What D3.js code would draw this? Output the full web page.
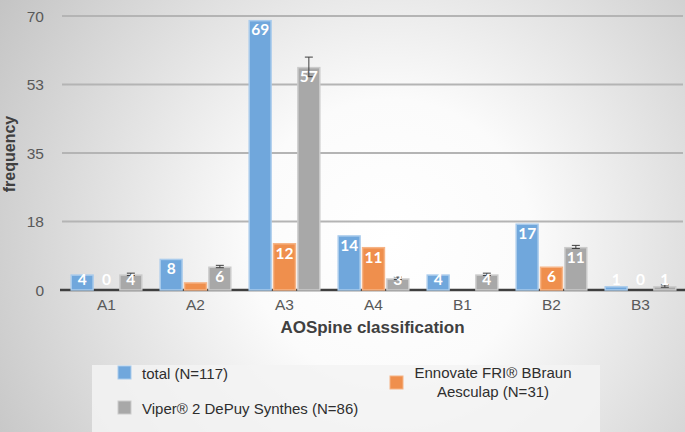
<!DOCTYPE html>
<html>
<head>
<meta charset="utf-8">
<script src="https://cdn.jsdelivr.net/npm/d3@7"></script>
<style>
  html, body { margin: 0; padding: 0; }
  body { width: 685px; height: 432px; overflow: hidden; }
</style>
</head>
<body>
<svg id="chart" width="685" height="432"></svg>
<script>
// AOSpine classification frequencies per implant system
const categories = ['A1', 'A2', 'A3', 'A4', 'B1', 'B2', 'B3'];
const seriesNames = ['total (N=117)', 'Ennovate FRI® BBraun Aesculap (N=31)', 'Viper® 2 DePuy Synthes (N=86)'];
const totalValues = [4, 8, 69, 14, 4, 17, 1];
const ennovateValues = [0, 2, 12, 11, 0, 6, 0];
const viperValues = [4, 6, 57, 3, 4, 11, 1];
const viperErrors = [0.3, 0.3, 2.5, 0.3, 0.3, 0.4, 0.3];
// labels Excel left out are empty strings
const totalLabels = ['4', '8', '69', '14', '4', '17', '1'];
const ennovateLabels = ['0', '', '12', '11', '', '6', '0'];
const viperLabels = ['4', '6', '57', '3', '4', '11', '1'];
const yTicks = [0, 17.5, 35, 52.5, 70];

const COLORS = {
  fill: ['#70a7dc', '#ef8f4d', '#a8a8a8'],
  edge: ['#a9cbec', '#f6b486', '#cbcbcb'],
  grid: '#b4b4b4',
  base: '#3f3f3f',
  text: '#595959',
  title: '#404040'
};
const FONT = 'Liberation Sans, Arial, sans-serif';
const LABEL_FONT = 'Lato, Open Sans, sans-serif';

const plot = { left: 62, right: 685, top: 16, bottom: 290 };

const svg = d3.select('#chart');

// radial grey background, white in the middle
const defs = svg.append('defs');
const grad = defs.append('radialGradient')
  .attr('id', 'bg')
  .attr('gradientUnits', 'userSpaceOnUse')
  .attr('cx', 390).attr('cy', 240).attr('r', 470);
grad.append('stop').attr('offset', '0%').attr('stop-color', '#ffffff');
grad.append('stop').attr('offset', '30%').attr('stop-color', '#fbfbfb');
grad.append('stop').attr('offset', '100%').attr('stop-color', '#c2c2c2');

svg.append('rect')
  .attr('width', 685).attr('height', 432)
  .attr('fill', 'url(#bg)');

const x0 = d3.scaleBand()
  .domain(categories)
  .range([plot.left, plot.right])
  .paddingInner(0.19)
  .paddingOuter(0.095);

const x1 = d3.scaleBand()
  .domain(d3.range(3))
  .range([0, x0.bandwidth()])
  .paddingInner(0.04);

const y = d3.scaleLinear()
  .domain([0, 70])
  .range([plot.bottom, plot.top]);

// grid lines
svg.append('g').attr('class', 'grid')
  .selectAll('line')
  .data(yTicks.slice(1))
  .join('line')
  .attr('x1', plot.left)
  .attr('x2', plot.right - 2)
  .attr('y1', d => y(d))
  .attr('y2', d => y(d))
  .attr('stroke', COLORS.grid)
  .attr('stroke-width', 2);

// y axis labels only
const yAxis = svg.append('g')
  .attr('transform', `translate(${plot.left - 6},0)`)
  .call(d3.axisLeft(y).tickValues(yTicks).tickFormat(d3.format('.0f')).tickSize(0).tickPadding(12));
yAxis.select('.domain').remove();
yAxis.selectAll('text')
  .attr('fill', COLORS.text)
  .attr('font-family', FONT)
  .attr('font-size', 15.5)
  .attr('dy', '0.35em');

// baseline
svg.append('line')
  .attr('x1', plot.left - 2).attr('x2', plot.right)
  .attr('y1', y(0)).attr('y2', y(0))
  .attr('stroke', COLORS.base)
  .attr('stroke-width', 2.5);

// x axis labels
const xAxis = svg.append('g')
  .attr('transform', `translate(0,${y(0)})`)
  .call(d3.axisBottom(x0).tickSize(0).tickPadding(9));
xAxis.select('.domain').remove();
xAxis.selectAll('text')
  .attr('fill', COLORS.text)
  .attr('font-family', FONT)
  .attr('font-size', 15.5);

const series = [
  { values: totalValues, labels: totalLabels },
  { values: ennovateValues, labels: ennovateLabels },
  { values: viperValues, labels: viperLabels, errors: viperErrors }
];

series.forEach((s, si) => {
  const g = svg.append('g').attr('class', 'series-' + si);
  const rows = categories.map((c, i) => ({ c, v: s.values[i], label: s.labels[i], err: s.errors ? s.errors[i] : 0 }));

  g.selectAll('rect')
    .data(rows.filter(d => d.v > 0))
    .join('rect')
    .attr('x', d => x0(d.c) + x1(si) + 0.75)
    .attr('y', d => y(d.v) + 0.75)
    .attr('width', x1.bandwidth() - 1.5)
    .attr('height', d => y(0) - y(d.v) - 0.75)
    .attr('fill', COLORS.fill[si])
    .attr('stroke', COLORS.edge[si])
    .attr('stroke-width', 1.5);

  if (s.errors) {
    const eb = g.append('g').attr('class', 'errors');
    const cx = d => x0(d.c) + x1(si) + x1.bandwidth() / 2;
    eb.selectAll('line.stem')
      .data(rows)
      .join('line')
      .attr('class', 'stem')
      .attr('x1', cx).attr('x2', cx)
      .attr('y1', d => y(d.v + d.err)).attr('y2', d => y(d.v - d.err))
      .attr('stroke', COLORS.base).attr('stroke-width', 1);
    eb.selectAll('line.cap-hi')
      .data(rows)
      .join('line')
      .attr('class', 'cap-hi')
      .attr('x1', d => cx(d) - 4).attr('x2', d => cx(d) + 4)
      .attr('y1', d => y(d.v + d.err)).attr('y2', d => y(d.v + d.err))
      .attr('stroke', COLORS.base).attr('stroke-width', 1);
    eb.selectAll('line.cap-lo')
      .data(rows)
      .join('line')
      .attr('class', 'cap-lo')
      .attr('x1', d => cx(d) - 4).attr('x2', d => cx(d) + 4)
      .attr('y1', d => y(d.v - d.err)).attr('y2', d => y(d.v - d.err))
      .attr('stroke', COLORS.base).attr('stroke-width', 1);
  }

  // inside-end labels, kept above the baseline
  g.selectAll('text')
    .data(rows.filter(d => d.label !== ''))
    .join('text')
    .attr('x', d => x0(d.c) + x1(si) + x1.bandwidth() / 2)
    .attr('y', d => Math.min(y(d.v) + 10, y(0) - 11))
    .attr('dy', '0.36em')
    .attr('text-anchor', 'middle')
    .attr('fill', '#ffffff')
    .attr('font-family', LABEL_FONT)
    .attr('font-weight', 'bold')
    .attr('font-size', 15.5)
    .text(d => d.label);
});

// axis titles
svg.append('text')
  .attr('x', (plot.left + plot.right) / 2 - 1)
  .attr('y', 333)
  .attr('text-anchor', 'middle')
  .attr('fill', COLORS.title)
  .attr('font-family', FONT)
  .attr('font-weight', 'bold')
  .attr('font-size', 17)
  .attr('font-weight', 'bold')
  .text('AOSpine classification');

svg.append('text')
  .attr('transform', 'translate(15,154) rotate(-90)')
  .attr('text-anchor', 'middle')
  .attr('fill', COLORS.title)
  .attr('font-family', FONT)
  .attr('font-weight', 'bold')
  .attr('font-size', 16)
  .text('frequency');

// legend
const legend = svg.append('g').attr('class', 'legend');
legend.append('rect')
  .attr('x', 92).attr('y', 365)
  .attr('width', 508).attr('height', 67)
  .attr('fill', '#f3f3f3')
  .attr('opacity', 0.85);

const legendItems = [
  { i: 0, sx: 118, sy: 366, lines: [seriesNames[0]], tx: 142, anchor: 'start', ty: [379] },
  { i: 2, sx: 118, sy: 401, lines: [seriesNames[2]], tx: 142, anchor: 'start', ty: [414] },
  { i: 1, sx: 390, sy: 376, lines: ['Ennovate FRI® BBraun', 'Aesculap (N=31)'], tx: 493, anchor: 'middle', ty: [378, 397] }
];
legendItems.forEach(it => {
  legend.append('rect')
    .attr('x', it.sx).attr('y', it.sy)
    .attr('width', 13).attr('height', 13)
    .attr('fill', COLORS.fill[it.i])
    .attr('stroke', COLORS.edge[it.i])
    .attr('stroke-width', 1);
  it.lines.forEach((ln, k) => {
    legend.append('text')
      .attr('x', it.tx).attr('y', it.ty[k])
      .attr('text-anchor', it.anchor)
      .attr('fill', '#2e2e2e')
      .attr('font-family', FONT)
      .attr('font-size', 15)
      .text(ln);
  });
});
</script>
</body>
</html>
